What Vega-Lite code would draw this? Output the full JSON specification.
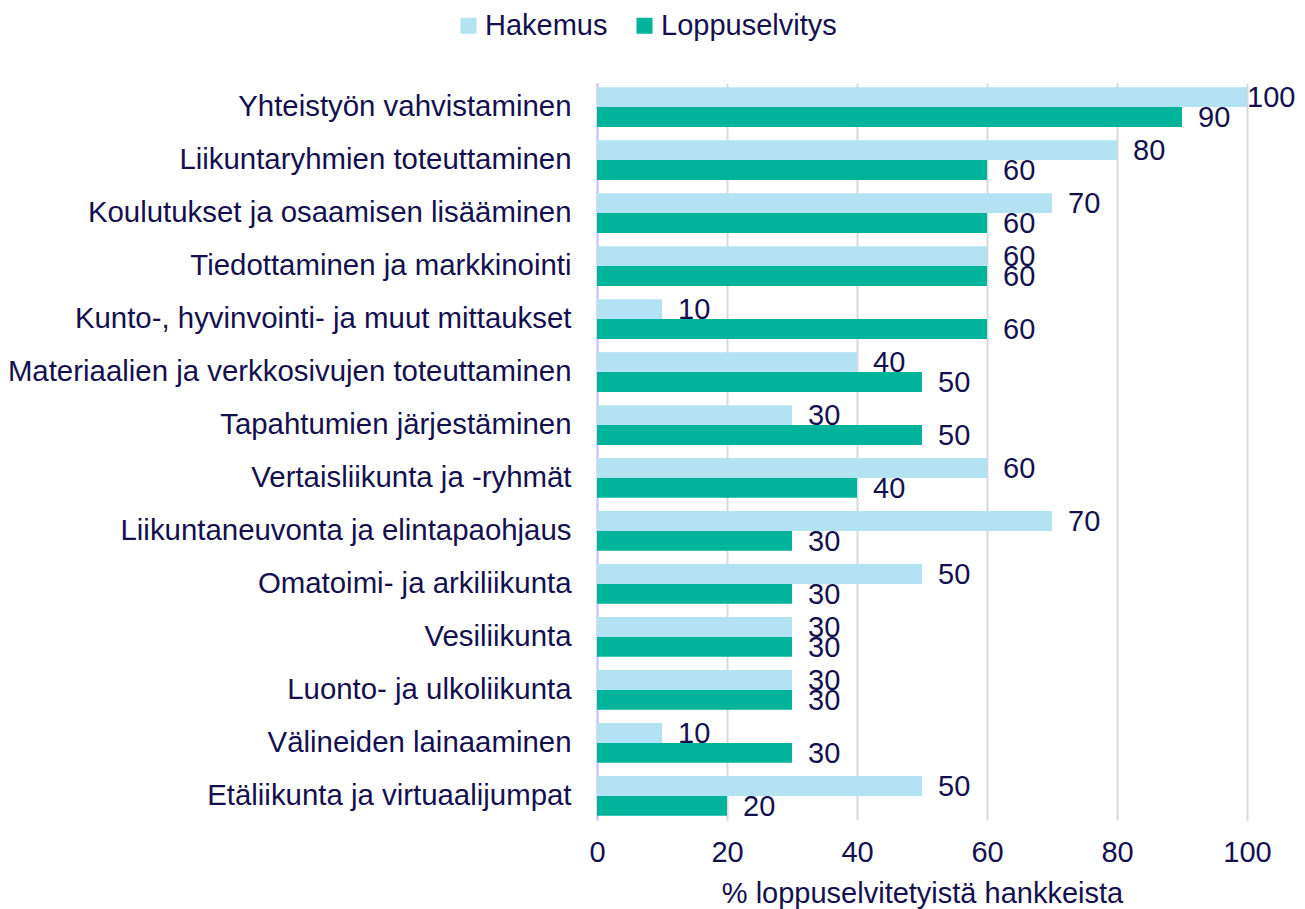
{
  "$schema": "https://vega.github.io/schema/vega-lite/v6.json",
  "width": 650,
  "height": 737,
  "autosize": {"type": "none"},
  "padding": {"left": 597, "top": 83, "right": 58, "bottom": 89},
  "background": "white",
  "config": {
    "font": "Liberation Sans",
    "view": {"stroke": null},
    "axis": {"labelColor": "#14104f", "titleColor": "#14104f", "labelFont": "Liberation Sans", "titleFont": "Liberation Sans"}
  },
  "data": {
    "values": [
      {"cat": "Yhteistyön vahvistaminen", "series": "Hakemus", "value": 100},
      {"cat": "Yhteistyön vahvistaminen", "series": "Loppuselvitys", "value": 90},
      {"cat": "Liikuntaryhmien toteuttaminen", "series": "Hakemus", "value": 80},
      {"cat": "Liikuntaryhmien toteuttaminen", "series": "Loppuselvitys", "value": 60},
      {"cat": "Koulutukset ja osaamisen lisääminen", "series": "Hakemus", "value": 70},
      {"cat": "Koulutukset ja osaamisen lisääminen", "series": "Loppuselvitys", "value": 60},
      {"cat": "Tiedottaminen ja markkinointi", "series": "Hakemus", "value": 60},
      {"cat": "Tiedottaminen ja markkinointi", "series": "Loppuselvitys", "value": 60},
      {"cat": "Kunto-, hyvinvointi- ja muut mittaukset", "series": "Hakemus", "value": 10},
      {"cat": "Kunto-, hyvinvointi- ja muut mittaukset", "series": "Loppuselvitys", "value": 60},
      {"cat": "Materiaalien ja verkkosivujen toteuttaminen", "series": "Hakemus", "value": 40},
      {"cat": "Materiaalien ja verkkosivujen toteuttaminen", "series": "Loppuselvitys", "value": 50},
      {"cat": "Tapahtumien järjestäminen", "series": "Hakemus", "value": 30},
      {"cat": "Tapahtumien järjestäminen", "series": "Loppuselvitys", "value": 50},
      {"cat": "Vertaisliikunta ja -ryhmät", "series": "Hakemus", "value": 60},
      {"cat": "Vertaisliikunta ja -ryhmät", "series": "Loppuselvitys", "value": 40},
      {"cat": "Liikuntaneuvonta ja elintapaohjaus", "series": "Hakemus", "value": 70},
      {"cat": "Liikuntaneuvonta ja elintapaohjaus", "series": "Loppuselvitys", "value": 30},
      {"cat": "Omatoimi- ja arkiliikunta", "series": "Hakemus", "value": 50},
      {"cat": "Omatoimi- ja arkiliikunta", "series": "Loppuselvitys", "value": 30},
      {"cat": "Vesiliikunta", "series": "Hakemus", "value": 30},
      {"cat": "Vesiliikunta", "series": "Loppuselvitys", "value": 30},
      {"cat": "Luonto- ja ulkoliikunta", "series": "Hakemus", "value": 30},
      {"cat": "Luonto- ja ulkoliikunta", "series": "Loppuselvitys", "value": 30},
      {"cat": "Välineiden lainaaminen", "series": "Hakemus", "value": 10},
      {"cat": "Välineiden lainaaminen", "series": "Loppuselvitys", "value": 30},
      {"cat": "Etäliikunta ja virtuaalijumpat", "series": "Hakemus", "value": 50},
      {"cat": "Etäliikunta ja virtuaalijumpat", "series": "Loppuselvitys", "value": 20}
    ]
  },
  "encoding": {
    "y": {
      "field": "cat",
      "type": "nominal",
      "sort": null,
      "scale": {"paddingInner": 0.25, "paddingOuter": 0.08},
      "axis": {
        "title": null,
        "labelFontSize": 29.4,
        "labelPadding": 26,
        "ticks": false,
        "grid": false,
        "domain": true,
        "domainColor": "#c9c3ff",
        "domainWidth": 2,
        "labelLimit": 700
      }
    },
    "yOffset": {"field": "series", "type": "nominal", "sort": ["Hakemus", "Loppuselvitys"]},
    "x": {
      "field": "value",
      "type": "quantitative",
      "scale": {"domain": [0, 100], "nice": false},
      "axis": {
        "title": "% loppuselvitetyistä hankkeista",
        "titleFontSize": 29,
        "titleFontWeight": "normal",
        "titlePadding": 12,
        "labelFontSize": 29,
        "labelPadding": 18,
        "labelFlush": false,
        "values": [0, 20, 40, 60, 80, 100],
        "ticks": false,
        "domain": false,
        "grid": true,
        "gridColor": "#d9d9d9",
        "gridWidth": 2
      }
    }
  },
  "layer": [
    {
      "mark": {"type": "bar"},
      "encoding": {
        "color": {
          "field": "series",
          "type": "nominal",
          "sort": ["Hakemus", "Loppuselvitys"],
          "scale": {"domain": ["Hakemus", "Loppuselvitys"], "range": ["#b3e3f2", "#00b39b"]},
          "legend": {
            "title": null,
            "orient": "none",
            "legendX": -143,
            "legendY": -72,
            "direction": "horizontal",
            "symbolType": "square",
            "symbolSize": 256,
            "symbolStrokeWidth": 0,
            "labelFontSize": 29,
            "labelColor": "#14104f",
            "labelFont": "Liberation Sans",
            "labelLimit": 400,
            "columnPadding": 22,
            "labelOffset": 2
          }
        }
      }
    },
    {
      "transform": [{"filter": "datum.value < 100"}],
      "mark": {"type": "text", "align": "left", "baseline": "middle", "dx": 16, "dy": 1, "fontSize": 29, "color": "#14104f"},
      "encoding": {
        "text": {"field": "value", "type": "quantitative"}
      }
    },
    {
      "transform": [{"filter": "datum.value >= 100"}],
      "mark": {"type": "text", "align": "left", "baseline": "middle", "dx": 0, "dy": 1, "fontSize": 29, "color": "#14104f"},
      "encoding": {
        "text": {"field": "value", "type": "quantitative"}
      }
    }
  ]
}
